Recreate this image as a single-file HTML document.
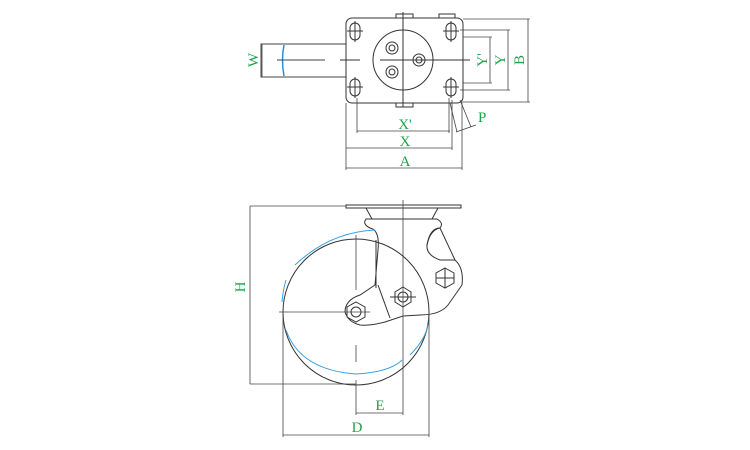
<!DOCTYPE html>
<html><head><style>body{margin:0;background:#fff}svg{display:block}</style></head><body>
<svg width="750" height="450" viewBox="0 0 750 450" xmlns="http://www.w3.org/2000/svg" font-family="Liberation Serif, serif" fill="none" stroke="#333" stroke-width="1">
<!-- TOP VIEW -->
<rect x="261" y="44" width="85" height="33" stroke="#444"/>
<path d="M284 45 Q281 60 284 76" stroke="#2a8fd8" stroke-width="1.5"/>
<line x1="277" y1="60" x2="325" y2="60" stroke="#444"/>
<line x1="340" y1="60" x2="360" y2="60"/>
<rect x="346" y="18" width="117" height="85" rx="6"/>
<rect x="396" y="14" width="17" height="4"/><rect x="396" y="103" width="17" height="4"/>
<rect x="439" y="14" width="16" height="4"/>
<g>
<rect x="350" y="23" width="10" height="17" rx="5"/><rect x="446" y="23" width="10" height="17" rx="5"/>
<rect x="350" y="79" width="10" height="17" rx="5"/><rect x="446" y="79" width="10" height="17" rx="5"/>
<line x1="347" y1="31" x2="363" y2="31"/><line x1="355" y1="21" x2="355" y2="42"/>
<line x1="443" y1="31" x2="459" y2="31"/><line x1="451" y1="21" x2="451" y2="42"/>
<line x1="347" y1="87" x2="363" y2="87"/><line x1="355" y1="77" x2="355" y2="98"/>
<line x1="443" y1="87" x2="459" y2="87"/><line x1="451" y1="77" x2="451" y2="98"/>
</g>
<circle cx="403" cy="60" r="30"/>
<line x1="380" y1="60" x2="470" y2="60"/><line x1="403" y1="12" x2="403" y2="107"/>
<circle cx="392" cy="48" r="6"/><circle cx="392" cy="48" r="3"/>
<circle cx="392" cy="72" r="6"/><circle cx="392" cy="72" r="3"/>
<circle cx="419" cy="60" r="6"/><circle cx="419" cy="60" r="3"/>
<g stroke="#444" stroke-width="0.8">
<line x1="463" y1="19" x2="530" y2="19"/><line x1="463" y1="102" x2="530" y2="102"/><line x1="528" y1="19" x2="528" y2="102"/>
<line x1="460" y1="30" x2="510" y2="30"/><line x1="460" y1="90" x2="510" y2="90"/><line x1="508" y1="30" x2="508" y2="90"/>
<line x1="463" y1="37" x2="492" y2="37"/><line x1="463" y1="83" x2="492" y2="83"/><line x1="490" y1="37" x2="490" y2="83"/>
<line x1="262" y1="44" x2="262" y2="77"/>
<line x1="357" y1="98" x2="357" y2="133"/><line x1="449" y1="98" x2="449" y2="133"/><line x1="357" y1="131" x2="450" y2="131"/>
<line x1="346" y1="103" x2="346" y2="170"/><line x1="452" y1="100" x2="452" y2="150"/><line x1="346" y1="148" x2="452" y2="148"/>
<line x1="462" y1="100" x2="462" y2="170"/><line x1="346" y1="168" x2="462" y2="168"/>
<line x1="450" y1="103" x2="457" y2="132"/><line x1="460" y1="100" x2="471" y2="127"/><line x1="456" y1="132" x2="476" y2="125"/>
</g>
<g fill="#1fa34a" stroke="none" font-size="15">
<text x="405" y="129" text-anchor="middle">X'</text>
<text x="405" y="146" text-anchor="middle">X</text>
<text x="405" y="166" text-anchor="middle">A</text>
<text x="478" y="122">P</text>
<text transform="translate(258,60) rotate(-90)" text-anchor="middle">W</text>
<text transform="translate(487,60) rotate(-90)" text-anchor="middle">Y'</text>
<text transform="translate(505,60) rotate(-90)" text-anchor="middle">Y</text>
<text transform="translate(524,60) rotate(-90)" text-anchor="middle">B</text>
<text transform="translate(245,287) rotate(-90)" text-anchor="middle">H</text>
<text x="380" y="410" text-anchor="middle">E</text>
<text x="357" y="432" text-anchor="middle">D</text>
</g>
<!-- SIDE VIEW -->
<rect x="346" y="205" width="115" height="3"/>
<path d="M366 208 L372 219 M438 208 L432 219"/>
<path d="M366 219 L437 219 Q444 223 440 228 Q430 230 427 245 Q426 255 440 260 L455 260 Q464 268 462 285 L448 305 Q440 315 420 315 L403 316 L385 322 Q370 326 360 325 Q348 322 345 312 Q345 300 360 295 L375 285 L378 250 Q380 230 370 228 Q362 224 366 219 Z"/>
<path d="M427 245 Q430 228 440 228 L455 260"/>
<path d="M378 285 L390 318 M376 240 L376 288"/>
<circle cx="356" cy="312" r="73"/>
<path d="M375 230 Q330 232 295 265" stroke="#3aa0e0"/>
<path d="M286 280 Q283 290 282 302" stroke="#3aa0e0"/>
<path d="M286 330 Q300 370 356 374 Q390 372 402 360" stroke="#3aa0e0"/>
<path d="M410 355 Q425 340 428 325" stroke="#3aa0e0"/>
<polygon points="356,302 365,307 365,317 356,322 347,317 347,307"/><circle cx="356" cy="312" r="5"/>
<polygon points="403,287 411,292 411,302 403,307 395,302 395,292"/><circle cx="403" cy="297" r="5"/>
<line x1="390" y1="297" x2="416" y2="297"/>
<polygon points="445,268 454,273 454,283 445,288 436,283 436,273"/>
<line x1="436" y1="278" x2="454" y2="278"/><line x1="445" y1="268" x2="445" y2="288"/>
<g stroke="#444" stroke-width="0.8">
<line x1="403" y1="200" x2="403" y2="415"/>
<line x1="279" y1="312" x2="370" y2="312"/>
<line x1="356" y1="235" x2="356" y2="290"/><line x1="356" y1="345" x2="356" y2="362"/><line x1="356" y1="380" x2="356" y2="415"/>
<line x1="250" y1="206" x2="346" y2="206"/><line x1="250" y1="384" x2="356" y2="384"/><line x1="250" y1="206" x2="250" y2="384"/>
<line x1="283" y1="312" x2="283" y2="437"/><line x1="429" y1="312" x2="429" y2="437"/>
<line x1="283" y1="435" x2="429" y2="435"/><line x1="356" y1="413" x2="403" y2="413"/>
</g>
</svg>
</body></html>
